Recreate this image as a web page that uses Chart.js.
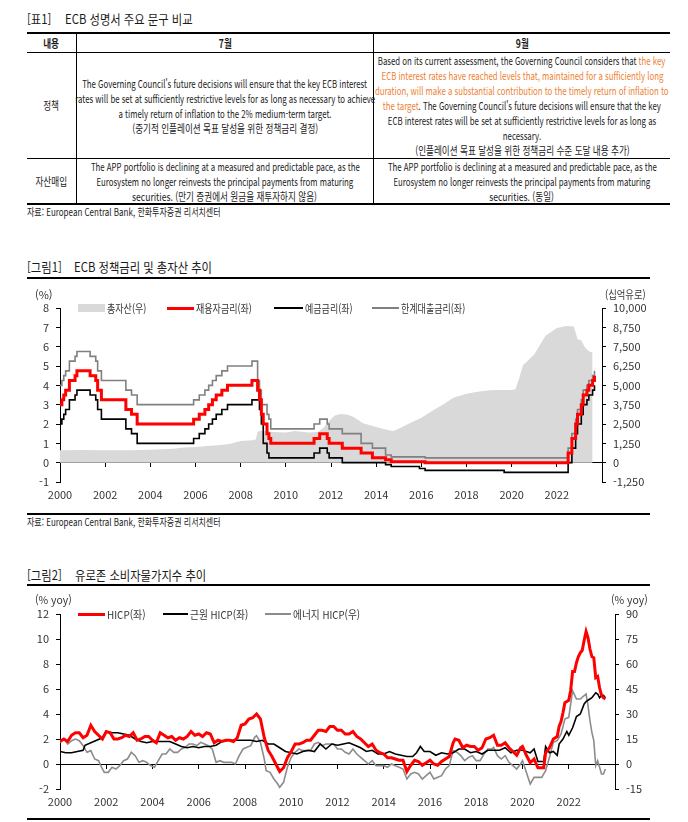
<!DOCTYPE html>
<html lang="ko">
<head>
<meta charset="utf-8">
<title>ECB 정책금리 및 유로존 물가</title>
<script src="https://cdn.jsdelivr.net/npm/chart.js@4.4.0/dist/chart.umd.min.js"></script>
<style>
  body { margin: 0; background: #fff; }
  #page { position: relative; width: 688px; height: 822px; overflow: hidden;
          font-family: 'Noto Sans CJK KR', 'Noto Sans', sans-serif; color: #1a1a1a; }
  .t { position: absolute; white-space: nowrap; transform-origin: 0 50%; line-height: 18px; }
  .rule { position: absolute; background: #000; }
  .cell { position: absolute; display: flex; flex-direction: column; justify-content: center; }
  .ln { display: flex; justify-content: center; white-space: nowrap; height: 15px; line-height: 15px; font-size: 11px; }
  .ln > span { display: inline-block; transform: scaleX(0.71); }
  .ln.ko > span { transform: scaleX(0.78); }
  .hd > span { font-weight: bold; }
  .or { color: #ee8134; }
  canvas { position: absolute; left: 0; }
  .lg { position: absolute; font-size: 11px; line-height: 14px; white-space: nowrap; color: #333; transform-origin: 0 50%; z-index: 2; }
  .sw { position: absolute; z-index: 2; }
</style>
</head>
<body>
<div id="page">
  <!-- 표1 -->
  <div class="t" style="left:27px;top:10px;font-size:13px;transform:scaleX(.87)">[표1]</div>
  <div class="t" style="left:65px;top:10px;font-size:13px;transform:scaleX(.87)">ECB 성명서 주요 문구 비교</div>

  <div class="rule" style="left:27px;top:32px;width:643px;height:2px"></div>
  <div class="rule" style="left:27px;top:52px;width:643px;height:1px"></div>
  <div class="rule" style="left:27px;top:158px;width:643px;height:1px"></div>
  <div class="rule" style="left:27px;top:203px;width:643px;height:1.5px"></div>
  <div class="rule" style="left:76px;top:34px;width:1px;height:169px"></div>
  <div class="rule" style="left:373px;top:34px;width:1px;height:169px"></div>

  <div class="cell" style="left:27px;top:34px;width:49px;height:18px"><div class="ln ko hd"><span>내용</span></div></div>
  <div class="cell" style="left:77px;top:34px;width:296px;height:18px"><div class="ln ko hd"><span>7월</span></div></div>
  <div class="cell" style="left:374px;top:34px;width:296px;height:18px"><div class="ln ko hd"><span>9월</span></div></div>

  <div class="cell" style="left:27px;top:53px;width:49px;height:105px"><div class="ln ko"><span>정책</span></div></div>
  <div class="cell" style="left:77px;top:53px;width:296px;height:105px">
    <div class="ln"><span>The Governing Council's future decisions will ensure that the key ECB interest</span></div>
    <div class="ln"><span>rates will be set at sufficiently restrictive levels for as long as necessary to achieve</span></div>
    <div class="ln"><span>a timely return of inflation to the 2% medium-term target.</span></div>
    <div class="ln ko"><span>(중기적 인플레이션 목표 달성을 위한 정책금리 결정)</span></div>
  </div>
  <div class="cell" style="left:374px;top:53px;width:296px;height:105px">
    <div class="ln"><span>Based on its current assessment, the Governing Council considers that <span class="or">the key</span></span></div>
    <div class="ln"><span class="or">ECB interest rates have reached levels that, maintained for a sufficiently long</span></div>
    <div class="ln"><span class="or">duration, will make a substantial contribution to the timely return of inflation to</span></div>
    <div class="ln"><span><span class="or">the target</span>. The Governing Council's future decisions will ensure that the key</span></div>
    <div class="ln"><span>ECB interest rates will be set at sufficiently restrictive levels for as long as</span></div>
    <div class="ln"><span>necessary.</span></div>
    <div class="ln ko"><span>(인플레이션 목표 달성을 위한 정책금리 수준 도달 내용 추가)</span></div>
  </div>

  <div class="cell" style="left:27px;top:159px;width:49px;height:44px"><div class="ln ko"><span>자산매입</span></div></div>
  <div class="cell" style="left:77px;top:159px;width:296px;height:44px">
    <div class="ln"><span>The APP portfolio is declining at a measured and predictable pace, as the</span></div>
    <div class="ln"><span>Eurosystem no longer reinvests the principal payments from maturing</span></div>
    <div class="ln ko"><span>securities. (만기 증권에서 원금을 재투자하지 않음)</span></div>
  </div>
  <div class="cell" style="left:374px;top:159px;width:296px;height:44px">
    <div class="ln"><span>The APP portfolio is declining at a measured and predictable pace, as the</span></div>
    <div class="ln"><span>Eurosystem no longer reinvests the principal payments from maturing</span></div>
    <div class="ln ko"><span>securities. (동일)</span></div>
  </div>
  <div class="t" style="left:27px;top:203px;font-size:10px;transform:scaleX(.8)">자료: European Central Bank, 한화투자증권 리서치센터</div>

  <!-- 그림1 -->
  <div class="t" style="left:27px;top:258px;font-size:13px;transform:scaleX(.87)">[그림1]</div>
  <div class="t" style="left:74px;top:258px;font-size:13px;transform:scaleX(.87)">ECB 정책금리 및 총자산 추이</div>
  <div class="rule" style="left:27px;top:277px;width:623px;height:1.5px"></div>
  <div class="lg" style="left:35px;top:287px">(%)</div>
  <div class="lg" style="left:605px;top:287px;transform:scaleX(.85)">(십억유로)</div>

  <div class="sw" style="left:78px;top:304px;width:27px;height:8px;background:#d9d9d9"></div>
  <div class="lg" style="left:107px;top:301px;transform:scaleX(.82)">총자산(우)</div>
  <div class="sw" style="left:167px;top:307px;width:27px;height:3px;background:#ff0000"></div>
  <div class="lg" style="left:196px;top:301px;transform:scaleX(.82)">재융자금리(좌)</div>
  <div class="sw" style="left:274px;top:307px;width:29px;height:2px;background:#000"></div>
  <div class="lg" style="left:305px;top:301px;transform:scaleX(.82)">예금금리(좌)</div>
  <div class="sw" style="left:372px;top:307px;width:27px;height:2px;background:#808080"></div>
  <div class="lg" style="left:401px;top:301px;transform:scaleX(.82)">한계대출금리(좌)</div>

  <canvas id="ratesChart" width="688" height="216" style="top:288px"></canvas>
  <div class="rule" style="left:27px;top:513px;width:623px;height:1.5px"></div>
  <div class="t" style="left:27px;top:513px;font-size:10px;transform:scaleX(.8)">자료: European Central Bank, 한화투자증권 리서치센터</div>

  <!-- 그림2 -->
  <div class="t" style="left:27px;top:566px;font-size:13px;transform:scaleX(.87)">[그림2]</div>
  <div class="t" style="left:75px;top:566px;font-size:13px;transform:scaleX(.87)">유로존 소비자물가지수 추이</div>
  <div class="rule" style="left:27px;top:584px;width:623px;height:1.5px"></div>
  <div class="lg" style="left:35px;top:592px;transform:scaleX(.95)">(% yoy)</div>
  <div class="lg" style="left:611px;top:592px;transform:scaleX(.95)">(% yoy)</div>

  <div class="sw" style="left:78px;top:613px;width:27px;height:3px;background:#ff0000"></div>
  <div class="lg" style="left:107px;top:607px;transform:scaleX(.9)">HICP(좌)</div>
  <div class="sw" style="left:163px;top:613px;width:25px;height:2px;background:#000"></div>
  <div class="lg" style="left:190px;top:607px;transform:scaleX(.88)">근원 HICP(좌)</div>
  <div class="sw" style="left:265px;top:613px;width:26px;height:2px;background:#8c8c8c"></div>
  <div class="lg" style="left:293px;top:607px;transform:scaleX(.88)">에너지 HICP(우)</div>

  <canvas id="cpiChart" width="688" height="217" style="top:594px"></canvas>
  <div class="rule" style="left:27px;top:818px;width:623px;height:1.5px"></div>
</div>

<script>
// ECB 정책금리 변경 시점 (세 금리 공통)
const rateDates = [
  '2000-01', '2000-02', '2000-03', '2000-04', '2000-06', '2000-09', '2000-10',
  '2001-05', '2001-08', '2001-09', '2001-11',
  '2002-12',
  '2003-03', '2003-06',
  '2005-12',
  '2006-03', '2006-06', '2006-08', '2006-10', '2006-12',
  '2007-03', '2007-06',
  '2008-07', '2008-10', '2008-11', '2008-12',
  '2009-01', '2009-03', '2009-04', '2009-05',
  '2011-04', '2011-07', '2011-11', '2011-12',
  '2012-07',
  '2013-05', '2013-11',
  '2014-06', '2014-09',
  '2015-12',
  '2016-03',
  '2019-09',
  '2022-07', '2022-09', '2022-11', '2022-12',
  '2023-02', '2023-03', '2023-05', '2023-06', '2023-08', '2023-09'
];
const refiRates = [
  3.00, 3.25, 3.50, 3.75, 4.25, 4.50, 4.75,
  4.50, 4.25, 3.75, 3.25,
  2.75,
  2.50, 2.00,
  2.25,
  2.50, 2.75, 3.00, 3.25, 3.50,
  3.75, 4.00,
  4.25, 3.75, 3.25, 2.50,
  2.00, 1.50, 1.25, 1.00,
  1.25, 1.50, 1.25, 1.00,
  0.75,
  0.50, 0.25,
  0.15, 0.05,
  0.05,
  0.00,
  0.00,
  0.50, 1.25, 2.00, 2.50,
  3.00, 3.50, 3.75, 4.00, 4.25, 4.50
];
const depositRates = [
  2.00, 2.25, 2.50, 2.75, 3.25, 3.50, 3.75,
  3.50, 3.25, 2.75, 2.25,
  1.75,
  1.50, 1.00,
  1.25,
  1.50, 1.75, 2.00, 2.25, 2.50,
  2.75, 3.00,
  3.25, 3.25, 2.75, 2.00,
  1.00, 0.50, 0.25, 0.25,
  0.50, 0.75, 0.50, 0.25,
  0.00,
  0.00, 0.00,
  -0.10, -0.20,
  -0.30,
  -0.40,
  -0.50,
  0.00, 0.75, 1.50, 2.00,
  2.50, 3.00, 3.25, 3.50, 3.75, 4.00
];
const lendingRates = [
  4.00, 4.25, 4.50, 4.75, 5.25, 5.50, 5.75,
  5.50, 5.25, 4.75, 4.25,
  3.75,
  3.50, 3.00,
  3.25,
  3.50, 3.75, 4.00, 4.25, 4.50,
  4.75, 5.00,
  5.25, 4.25, 3.75, 3.00,
  3.00, 2.50, 2.25, 1.75,
  2.00, 2.25, 2.00, 1.75,
  1.50,
  1.00, 0.75,
  0.40, 0.30,
  0.30,
  0.25,
  0.25,
  0.75, 1.50, 2.25, 2.75,
  3.25, 3.75, 4.00, 4.25, 4.50, 4.75
];

// 총자산 (십억유로)
const assetDates = [
  '2000-01', '2001-01', '2002-01', '2003-01', '2004-01', '2005-01', '2005-07', '2006-01', '2006-07',
  '2007-01', '2007-07', '2008-01', '2008-07', '2008-09', '2008-10', '2008-12', '2009-06', '2010-01',
  '2010-06', '2011-01', '2011-06', '2011-09', '2011-12', '2012-03', '2012-06', '2012-10', '2013-01',
  '2013-06', '2014-01', '2014-06', '2014-10', '2015-01', '2015-06', '2016-01', '2016-06', '2017-01',
  '2017-06', '2018-01', '2018-06', '2019-01', '2019-06', '2020-01', '2020-03', '2020-05', '2020-07',
  '2021-01', '2021-04', '2021-07', '2022-01', '2022-06', '2022-10', '2022-12', '2023-02', '2023-04',
  '2023-06', '2023-08'
];
const assetValues = [
  800, 820, 810, 800, 830, 900, 980, 1020, 1080,
  1120, 1200, 1400, 1450, 1500, 2000, 2080, 1980, 1950,
  2050, 1950, 1980, 2250, 2700, 3050, 3150, 3100, 2950,
  2550, 2300, 2150, 2050, 2200, 2500, 2900, 3300, 3800,
  4200, 4450, 4570, 4680, 4700, 4700, 4750, 5450, 6300,
  7000, 7600, 8200, 8700, 8830, 8800, 8000, 7900, 7450,
  7200, 7100
];

// 유로존 HICP (% yoy)
const hicpDates = [
  '2000-01', '2000-03', '2000-05', '2000-07', '2000-09', '2000-11',
  '2001-01', '2001-03', '2001-05', '2001-07', '2001-09', '2001-11',
  '2002-01', '2002-03', '2002-05', '2002-07', '2002-09', '2002-11',
  '2003-01', '2003-03', '2003-05', '2003-07', '2003-09', '2003-11',
  '2004-01', '2004-03', '2004-05', '2004-07', '2004-09', '2004-11',
  '2005-01', '2005-03', '2005-05', '2005-07', '2005-09', '2005-11',
  '2006-01', '2006-03', '2006-05', '2006-07', '2006-09', '2006-11',
  '2007-01', '2007-03', '2007-05', '2007-07', '2007-09', '2007-11',
  '2008-01', '2008-03', '2008-05', '2008-07', '2008-09', '2008-11',
  '2009-01', '2009-03', '2009-05', '2009-07', '2009-09', '2009-11',
  '2010-01', '2010-03', '2010-05', '2010-07', '2010-09', '2010-11',
  '2011-01', '2011-03', '2011-05', '2011-07', '2011-09', '2011-11',
  '2012-01', '2012-03', '2012-05', '2012-07', '2012-09', '2012-11',
  '2013-01', '2013-03', '2013-05', '2013-07', '2013-09', '2013-11',
  '2014-01', '2014-03', '2014-05', '2014-07', '2014-09', '2014-11',
  '2015-01', '2015-03', '2015-05', '2015-07', '2015-09', '2015-11',
  '2016-01', '2016-03', '2016-05', '2016-07', '2016-09', '2016-11',
  '2017-01', '2017-02', '2017-04', '2017-06', '2017-08', '2017-10', '2017-12',
  '2018-02', '2018-04', '2018-06', '2018-08', '2018-10', '2018-12',
  '2019-02', '2019-04', '2019-06', '2019-08', '2019-10', '2019-12',
  '2020-01', '2020-03', '2020-05', '2020-07', '2020-09', '2020-11', '2020-12',
  '2021-01', '2021-03', '2021-05', '2021-07', '2021-08', '2021-09', '2021-10', '2021-11', '2021-12',
  '2022-01', '2022-02', '2022-03', '2022-04', '2022-05', '2022-06',
  '2022-07', '2022-08', '2022-09', '2022-10', '2022-11', '2022-12',
  '2023-01', '2023-02', '2023-03', '2023-04', '2023-05', '2023-06', '2023-07', '2023-08'
];
const hicpValues = [
  1.8, 2.0, 1.8, 2.3, 2.5, 2.5,
  2.1, 2.3, 3.1, 2.6, 2.3, 2.0,
  2.6, 2.5, 2.0, 2.0, 2.1, 2.3,
  2.2, 2.5, 1.9, 2.0, 2.2, 2.2,
  1.9, 1.7, 2.5, 2.3, 2.1, 2.2,
  1.9, 2.1, 2.0, 2.2, 2.6, 2.3,
  2.4, 2.2, 2.5, 2.4, 1.7, 1.9,
  1.8, 1.9, 1.9, 1.8, 2.1, 3.1,
  3.2, 3.6, 3.7, 4.0, 3.6, 2.1,
  1.1, 0.6, 0.0, -0.6, -0.3, 0.5,
  1.0, 1.6, 1.6, 1.7, 1.9, 1.9,
  2.3, 2.7, 2.7, 2.6, 3.0, 3.0,
  2.7, 2.7, 2.4, 2.4, 2.6, 2.2,
  2.0, 1.7, 1.4, 1.6, 1.1, 0.9,
  0.8, 0.5, 0.5, 0.4, 0.3, 0.3,
  -0.6, -0.1, 0.3, 0.2, -0.1, 0.1,
  0.3, 0.0, -0.1, 0.2, 0.4, 0.6,
  1.7, 2.0, 1.9, 1.3, 1.5, 1.4, 1.4,
  1.1, 1.3, 2.0, 2.1, 2.3, 1.5,
  1.5, 1.7, 1.3, 1.0, 0.7, 1.3,
  1.4, 0.7, 0.1, 0.4, -0.3, -0.3, -0.3,
  0.9, 1.3, 2.0, 2.2, 3.0, 3.4, 4.1, 4.9, 5.0,
  5.1, 5.9, 7.4, 7.4, 8.1, 8.6,
  8.9, 9.1, 9.9, 10.6, 10.1, 9.2,
  8.6, 8.5, 6.9, 7.0, 6.1, 5.5, 5.3, 5.2
];

// 근원 HICP (% yoy)
const coreDates = [
  '2000-01', '2000-04', '2000-07', '2000-10',
  '2001-01', '2001-02', '2001-05', '2001-08', '2001-11',
  '2002-01', '2002-04', '2002-07', '2002-10',
  '2003-01', '2003-04', '2003-07', '2003-10',
  '2004-01', '2004-04', '2004-07', '2004-10',
  '2005-01', '2005-04', '2005-07', '2005-10',
  '2006-01', '2006-04', '2006-07', '2006-10',
  '2007-01', '2007-04', '2007-07', '2007-10',
  '2008-01', '2008-04', '2008-07', '2008-10',
  '2009-01', '2009-04', '2009-07', '2009-10',
  '2010-01', '2010-04', '2010-07', '2010-10',
  '2011-01', '2011-04', '2011-07', '2011-10',
  '2012-01', '2012-04', '2012-07', '2012-10',
  '2013-01', '2013-04', '2013-07', '2013-10',
  '2014-01', '2014-04', '2014-07', '2014-10',
  '2015-01', '2015-04', '2015-06', '2015-08', '2015-10',
  '2016-01', '2016-04', '2016-07', '2016-10',
  '2017-01', '2017-04', '2017-07', '2017-10',
  '2018-01', '2018-04', '2018-07', '2018-10',
  '2019-01', '2019-04', '2019-07', '2019-10',
  '2020-01', '2020-03', '2020-05', '2020-07', '2020-09', '2020-12',
  '2021-01', '2021-03', '2021-05', '2021-07', '2021-08', '2021-10', '2021-12',
  '2022-01', '2022-03', '2022-05', '2022-07', '2022-09', '2022-10', '2022-12',
  '2023-01', '2023-03', '2023-04', '2023-05', '2023-06', '2023-07', '2023-08'
];
const coreValues = [
  1.0, 0.9, 0.9, 1.0,
  1.1, 1.5, 1.7, 1.9, 2.1,
  2.6, 2.5, 2.5, 2.4,
  2.3, 2.0, 1.8, 1.7,
  1.8, 1.8, 1.8, 1.8,
  1.6, 1.4, 1.3, 1.4,
  1.3, 1.4, 1.4, 1.5,
  1.8, 1.9, 1.9, 1.9,
  1.9, 1.9, 1.8, 1.9,
  1.6, 1.6, 1.3, 1.0,
  0.9, 0.8, 1.0, 1.1,
  1.0, 1.6, 1.2, 1.6,
  1.5, 1.6, 1.7, 1.5,
  1.3, 1.0, 1.1, 0.8,
  0.8, 1.0, 0.8, 0.7,
  0.6, 0.6, 0.9, 1.4, 1.0,
  1.0, 0.7, 0.9, 0.8,
  0.9, 1.2, 1.2, 0.9,
  1.0, 0.8, 1.1, 1.1,
  1.1, 1.3, 0.9, 1.1,
  1.1, 1.0, 0.9, 1.2, 0.2, 0.2,
  1.4, 0.9, 1.0, 0.7, 1.6, 2.0, 2.6,
  2.3, 2.9, 3.8, 4.0, 4.8, 5.0, 5.2,
  5.3, 5.7, 5.6, 5.3, 5.5, 5.5, 5.3
];

// 에너지 HICP (% yoy, 우축)
const energyDates = [
  '2000-01', '2000-03', '2000-05', '2000-07', '2000-09', '2000-11',
  '2001-01', '2001-03', '2001-05', '2001-07', '2001-09', '2001-11', '2001-12',
  '2002-02', '2002-04', '2002-06', '2002-08', '2002-10', '2002-12',
  '2003-02', '2003-04', '2003-06', '2003-08', '2003-10', '2003-12',
  '2004-02', '2004-04', '2004-06', '2004-08', '2004-10', '2004-12',
  '2005-02', '2005-04', '2005-06', '2005-08', '2005-10', '2005-12',
  '2006-02', '2006-04', '2006-06', '2006-08', '2006-10', '2006-12',
  '2007-02', '2007-04', '2007-06', '2007-08', '2007-10', '2007-12',
  '2008-02', '2008-04', '2008-06', '2008-07', '2008-09', '2008-11', '2008-12',
  '2009-02', '2009-04', '2009-06', '2009-07', '2009-09', '2009-11',
  '2010-01', '2010-03', '2010-05', '2010-07', '2010-09', '2010-11',
  '2011-01', '2011-03', '2011-05', '2011-07', '2011-09', '2011-11',
  '2012-01', '2012-03', '2012-05', '2012-07', '2012-09', '2012-11',
  '2013-01', '2013-03', '2013-05', '2013-07', '2013-09', '2013-11',
  '2014-01', '2014-03', '2014-05', '2014-07', '2014-09', '2014-11',
  '2015-01', '2015-03', '2015-05', '2015-07', '2015-09', '2015-11',
  '2016-01', '2016-03', '2016-05', '2016-07', '2016-09', '2016-11',
  '2017-01', '2017-03', '2017-05', '2017-07', '2017-09', '2017-11',
  '2018-01', '2018-03', '2018-05', '2018-07', '2018-09', '2018-10', '2018-12',
  '2019-02', '2019-04', '2019-06', '2019-08', '2019-10', '2019-12',
  '2020-01', '2020-03', '2020-05', '2020-07', '2020-09', '2020-11',
  '2021-01', '2021-03', '2021-05', '2021-07', '2021-09', '2021-11',
  '2022-01', '2022-03', '2022-05', '2022-07', '2022-09', '2022-10', '2022-11', '2022-12',
  '2023-01', '2023-02', '2023-03', '2023-04', '2023-05', '2023-06', '2023-07', '2023-08'
];
const energyValues = [
  13, 15, 12, 14, 15, 14,
  11, 7, 8, 3, 2, -3, -5,
  -5, -2, -3, -1, 2, 3,
  7, 5, 1, 2, 1, -1,
  -2, 2, 6, 6, 9, 7,
  7, 9, 10, 12, 12, 11,
  13, 12, 11, 9, 1, 2,
  1, 1, 1, 0, 5, 9,
  10, 11, 16, 17, 13, 3, -4,
  -5, -9, -12, -14, -11, -2,
  4, 7, 9, 8, 8, 8,
  12, 13, 11, 12, 12, 12,
  9, 9, 7, 6, 9, 6,
  4, 2, 0, 2, -1, -1,
  -1, -2, 0, -1, -2, -3,
  -9, -6, -5, -6, -9, -7,
  -5, -9, -8, -7, -3, -1,
  8, 7, 5, 2, 4, 5,
  2, 2, 6, 9, 9, 10, 5,
  3, 5, 1, -1, -3, 0,
  2, -5, -12, -8, -8, -8,
  -4, 4, 13, 14, 18, 27,
  28, 44, 39, 39, 41, 42, 35, 26,
  19, 14, -1, 2, -2, -6, -6, -3
];

const toYear = s => {
  const [y, m] = s.split('-').map(Number);
  return y + (m - 1) / 12;
};
const pts = (dates, values) => dates.map((d, i) => ({ x: toYear(d), y: values[i] }));

const tickFont = { family: "'Noto Sans CJK KR', 'Noto Sans', sans-serif", size: 11 };

function makeScales(left, right) {
  return {
    x: {
      type: 'linear', min: 2000, max: 2024,
      border: { display: false },
      grid: { display: false, drawTicks: false },
      ticks: {
        stepSize: 2, autoSkip: false, maxRotation: 0, padding: 6,
        color: '#333', font: tickFont,
        callback: v => (v < 2024 ? String(v) : '')
      },
      afterFit: s => { s.height = 22; }
    },
    x0: {
      type: 'linear', axis: 'x', position: { y: 0 }, min: 2000, max: 2024,
      border: { display: true, color: '#000', width: 1 },
      grid: { drawOnChartArea: false, drawTicks: true, tickLength: 4, color: '#000' },
      ticks: { display: false, stepSize: 2 }
    },
    y: {
      type: 'linear', position: 'left', min: left.min, max: left.max,
      border: { display: true, color: '#000', width: 1 },
      grid: { drawOnChartArea: false, tickLength: 4, color: '#000' },
      ticks: { stepSize: left.step, padding: 7, color: '#333', font: tickFont },
      afterFit: s => { s.width = left.width; }
    },
    y1: {
      type: 'linear', position: 'right', min: right.min, max: right.max,
      border: { display: true, color: '#000', width: 1 },
      grid: { drawOnChartArea: false, tickLength: 4, color: '#000' },
      ticks: { stepSize: right.step, padding: 7, color: '#333', font: tickFont },
      afterFit: s => { s.width = right.width; }
    }
  };
}

const commonOptions = {
  responsive: false,
  animation: false,
  devicePixelRatio: 1,
  locale: 'en-US',
  layout: { padding: { top: 20, left: 0, right: 0, bottom: 0 } },
  plugins: { legend: { display: false }, tooltip: { enabled: false } },
  elements: { point: { radius: 0 }, line: { tension: 0 } }
};

// 금리는 변경 시점까지 이전 값을 유지 (계단형)
new Chart(document.getElementById('ratesChart'), {
  type: 'line',
  data: {
    datasets: [
      { label: '재융자금리(좌)', data: pts(rateDates, refiRates), yAxisID: 'y',
        borderColor: '#ff0000', borderWidth: 3, stepped: 'before', order: 0 },
      { label: '예금금리(좌)', data: pts(rateDates, depositRates), yAxisID: 'y',
        borderColor: '#000000', borderWidth: 1.6, stepped: 'before', order: 1 },
      { label: '한계대출금리(좌)', data: pts(rateDates, lendingRates), yAxisID: 'y',
        borderColor: '#808080', borderWidth: 1.6, stepped: 'before', order: 2 },
      { label: '총자산(우)', data: pts(assetDates, assetValues), yAxisID: 'y1',
        borderWidth: 0, borderColor: 'rgba(0,0,0,0)', backgroundColor: '#d9d9d9', fill: 'origin', order: 3 }
    ]
  },
  options: {
    ...commonOptions,
    scales: makeScales(
      { min: -1, max: 8, step: 1, width: 60 },
      { min: -1250, max: 10000, step: 1250, width: 86 }
    )
  }
});

new Chart(document.getElementById('cpiChart'), {
  type: 'line',
  data: {
    datasets: [
      { label: 'HICP(좌)', data: pts(hicpDates, hicpValues), yAxisID: 'y',
        borderColor: '#ff0000', borderWidth: 3, order: 0 },
      { label: '근원 HICP(좌)', data: pts(coreDates, coreValues), yAxisID: 'y',
        borderColor: '#000000', borderWidth: 1.6, order: 1 },
      { label: '에너지 HICP(우)', data: pts(energyDates, energyValues), yAxisID: 'y1',
        borderColor: '#8c8c8c', borderWidth: 1.6, order: 2 }
    ]
  },
  options: {
    ...commonOptions,
    scales: makeScales(
      { min: -2, max: 12, step: 2, width: 60 },
      { min: -15, max: 90, step: 15, width: 73 }
    )
  }
});
</script>
</body>
</html>
